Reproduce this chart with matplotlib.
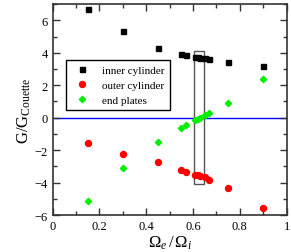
import matplotlib
matplotlib.use("Agg")
import matplotlib.pyplot as plt
from matplotlib.patches import Rectangle
from matplotlib.ticker import MultipleLocator, FuncFormatter

plt.rcParams['font.family'] = ['Liberation Serif', 'DejaVu Serif']
plt.rcParams['mathtext.fontset'] = 'custom'
plt.rcParams['mathtext.rm'] = 'Liberation Serif'
plt.rcParams['mathtext.it'] = 'Liberation Serif:italic'

ratio = [0.15, 0.30, 0.45, 0.55, 0.57, 0.61, 0.62, 0.63, 0.65, 0.67, 0.75, 0.90]
inner = [6.72, 5.32, 4.27, 3.91, 3.85, 3.75, 3.72, 3.70, 3.66, 3.62, 3.46, 3.19]
outer = [-1.59, -2.23, -2.72, -3.20, -3.32, -3.51, -3.55, -3.60, -3.68, -3.86, -4.33, -5.57]
plates = [-5.12, -3.09, -1.51, -0.63, -0.48, -0.15, -0.08, 0.0, 0.14, 0.31, 0.93, 2.37]

fig = plt.figure(figsize=(2.91, 2.53), dpi=100)
ax = fig.add_axes([0.181, 0.146, 0.804, 0.834])

ax.axhline(0, color="blue", lw=1, zorder=1)
# highlighted region
ax.add_patch(Rectangle((0.605, -4.1), 0.04, 8.2, fill=False, edgecolor="#555555", lw=1, zorder=2))

ax.plot(ratio, inner, "s", color="black", ms=3.6, ls="none", label="inner cylinder", zorder=3)
ax.plot(ratio, outer, "o", color="red", ms=4.3, ls="none", label="outer cylinder", zorder=3)
ax.plot(ratio, plates, "D", color="#00ee00", ms=3.2, ls="none", label="end plates", zorder=3)

ax.set_xlim(0, 1)
ax.set_ylim(-6, 7)
ax.xaxis.set_major_locator(MultipleLocator(0.2))
ax.xaxis.set_minor_locator(MultipleLocator(0.1))
ax.yaxis.set_major_locator(MultipleLocator(2))
ax.yaxis.set_minor_locator(MultipleLocator(1))
ax.xaxis.set_major_formatter(FuncFormatter(lambda v, p: "%g" % round(v, 2)))
ax.tick_params(which="both", direction="in", top=True, right=True, labelsize=9, color="#333333")
ax.tick_params(which="major", length=5, width=1)
ax.tick_params(which="minor", length=3, width=1)
for s in ax.spines.values():
    s.set_linewidth(1.2)
    s.set_color("#333333")

ax.set_xlabel(r"$\Omega_e\,/\,\Omega_i$", fontsize=12, labelpad=1)
ax.set_ylabel(r"G/G$_{\mathrm{Couette}}$", fontsize=12, labelpad=1)

leg = ax.legend(loc="upper left", bbox_to_anchor=(0.057, 0.734), fontsize=8, fancybox=False,
                edgecolor="black", framealpha=1, handletextpad=0.8, borderpad=0.45,
                labelspacing=0.45, borderaxespad=0)
leg.get_frame().set_linewidth(1)

fig.savefig("out.png", dpi=100)
